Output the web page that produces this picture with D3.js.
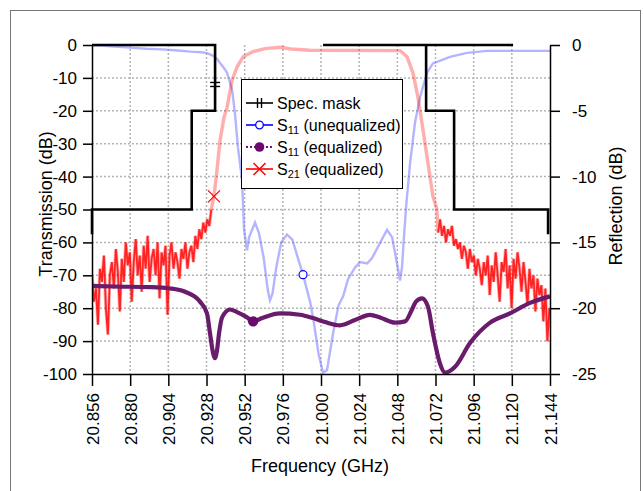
<!DOCTYPE html>
<html>
<head>
<meta charset="utf-8">
<script src="https://cdn.jsdelivr.net/npm/d3@7"></script>
<style>
  body { margin: 0; background: #fff; }
  svg { font-family: "Liberation Sans", Arial, sans-serif; }
  .grid line { stroke: #b4b4b4; stroke-width: 1.5; stroke-dasharray: 2,2; }
  .axis path, .axis line { stroke: #000; stroke-width: 1.5; }
  .axis text { font-size: 17px; fill: #000; }
</style>
</head>
<body>
<svg id="chart" width="643" height="491" viewBox="0 0 643 491"></svg>
<script>
// axis ticks
const freqTicks = [20.856, 20.880, 20.904, 20.928, 20.952, 20.976, 21.000, 21.024, 21.048, 21.072, 21.096, 21.120, 21.144];
const transTicks = [0, -10, -20, -30, -40, -50, -60, -70, -80, -90, -100];
const reflTicks = [0, -5, -10, -15, -20, -25];

// spec mask (transmission dB)
const maskLeftFreq = [20.856, 20.856, 20.9187, 20.9187, 20.9334, 20.9334, 20.856];
const maskLeftDb = [-57.5, -50, -50, -20, -20, 0, 0];
const maskTopFreq = [21.0013, 21.1208];
const maskTopDb = [0, 0];
const maskRightFreq = [21.0661, 21.0661, 21.0837, 21.0837, 21.1428, 21.1428];
const maskRightDb = [0, -20, -20, -50, -50, -57.5];

// S11 unequalized (reflection dB)
const s11UneqFreq = [20.856, 20.862, 20.870, 20.880, 20.890, 20.900, 20.910, 20.918, 20.925, 20.9283, 20.932, 20.9346,
  20.9365, 20.939, 20.9409, 20.9441, 20.9459, 20.9478, 20.9503, 20.951, 20.9516, 20.9535, 20.9548, 20.9585, 20.961,
  20.964, 20.9665, 20.9679, 20.9695, 20.972, 20.975, 20.9786, 20.982, 20.9855, 20.9887, 20.9931, 20.995, 20.9985,
  21.0013, 21.0038, 21.0076, 21.011, 21.0139, 21.017, 21.0214, 21.0246, 21.029, 21.032, 21.0371, 21.0415, 21.0447,
  21.0478, 21.0497, 21.051, 21.0516, 21.0535, 21.056, 21.0591, 21.0623, 21.0667, 21.0704, 21.0811, 21.0918, 21.1044, 21.144];
const s11UneqDb = [-0.02, -0.05, -0.12, -0.2, -0.28, -0.33, -0.42, -0.5, -0.55, -0.62, -0.8, -1.05,
  -1.37, -1.75, -2.1, -3.4, -5.2, -7.8, -10.2, -12.2, -14.0, -15.6, -14.6, -13.5, -14.3,
  -16.2, -18.6, -19.4, -18.9, -16.8, -15.0, -14.4, -14.8, -16.2, -17.45, -19.5, -20.7, -23.5,
  -24.9, -24.7, -21.9, -19.8, -19.1, -17.8, -16.9, -16.5, -16.6, -16.2, -15.05, -14.05, -14.6,
  -16.6, -17.9, -16.8, -15.6, -12.3, -9.0, -5.9, -3.95, -2.1, -1.4, -0.9, -0.6, -0.45, -0.45];

// S11 equalized (reflection dB)
const s11EqFreq = [20.856, 20.870, 20.8925, 20.9051, 20.9145, 20.9239, 20.9283, 20.9302, 20.9321, 20.9333, 20.9346,
  20.9359, 20.9378, 20.9428, 20.9472, 20.9535, 20.9573, 20.963, 20.9742, 20.9868, 20.995, 21.0025, 21.012, 21.0214,
  21.0308, 21.0371, 21.0466, 21.0529, 21.0572, 21.0597, 21.0635, 21.0673, 21.0704, 21.0748, 21.078, 21.0843,
  21.0937, 21.1063, 21.1188, 21.1314, 21.144];
const s11EqDb = [-18.3, -18.35, -18.4, -18.5, -18.75, -19.5, -20.4, -21.9, -23.4, -23.8, -23.2,
  -21.9, -20.7, -20.1, -20.3, -20.7, -21.0, -20.75, -20.4, -20.5, -20.75, -21.05, -21.3, -20.9,
  -20.5, -20.7, -21.1, -21.0, -20.1, -19.5, -19.25, -19.9, -21.9, -24.2, -24.9, -24.45,
  -22.65, -21.1, -20.4, -19.6, -19.1];

// S21 equalized (transmission dB): noisy lower stopband, filter skirt, noisy upper stopband
const s21LowStart = 20.856, s21Step = 0.00125;
const s21LowDb = [-70, -78, -74, -85, -68, -72, -64, -80, -88, -70, -66, -74, -62, -69, -81, -65, -72, -60, -67, -63,
  -78, -66, -59, -70, -64, -75, -61, -68, -58, -72, -65, -62, -70, -60, -77, -63, -67, -61, -82, -64,
  -60, -68, -63, -66, -71, -62, -65, -60, -68, -63, -61, -66, -58, -62, -56, -59, -54, -57, -53, -55, -50];
const s21MainFreq = [20.9327, 20.9346, 20.9365, 20.939, 20.9409, 20.9441, 20.9472, 20.951, 20.9573, 20.9648, 20.9742,
  20.981, 20.993, 21.0497, 21.0541, 21.0579, 21.061, 21.0642, 21.0673, 21.0704, 21.0729];
const s21MainDb = [-46, -38, -29, -22, -19, -10.6, -6.7, -3.6, -2.0, -1.1, -0.7,
  -1.2, -1.6, -1.7, -3.6, -8.6, -16, -26, -36, -46, -50];
const s21HighStart = 21.0736;
const s21HighDb = [-57, -53, -58, -55, -60, -56, -58, -55, -61, -59, -62, -60, -65, -61, -63, -68, -62, -66, -64, -70,
  -65, -68, -73, -66, -70, -64, -76, -67, -72, -63, -70, -78, -66, -69, -62, -74, -67, -80, -65, -71,
  -63, -68, -75, -66, -72, -79, -68, -74, -70, -81, -71, -76, -73, -84, -74, -90, -80];

// markers
const markMask = [20.9334, -12];
const markS11Uneq = [20.9887, -17.45];
const markS11Eq = [20.9573, -21.0];
const markS21 = [20.9327, -46];

const svg = d3.select("#chart");
const plot = {left: 92, right: 550, top: 45, bottom: 374};

const x = d3.scaleLinear().domain([20.856, 21.144]).range([plot.left, plot.right]);
const yT = d3.scaleLinear().domain([0, -100]).range([plot.top, plot.bottom]);
const yR = d3.scaleLinear().domain([0, -25]).range([plot.top, plot.bottom]);

// outer frame
svg.append("rect")
    .attr("x", 10.5).attr("y", 10.5)
    .attr("width", 630).attr("height", 500)
    .attr("fill", "none").attr("stroke", "#777").attr("stroke-width", 1);

const defs = svg.append("defs");
defs.append("filter").attr("id", "soft")
    .append("feGaussianBlur").attr("stdDeviation", 0.7);
defs.append("clipPath").attr("id", "clip")
    .append("rect")
    .attr("x", plot.left).attr("y", plot.top - 3)
    .attr("width", plot.right - plot.left + 3).attr("height", plot.bottom - plot.top + 3);

// grid
const grid = svg.append("g").attr("class", "grid");
grid.selectAll(".h").data(transTicks.slice(1, -1)).join("line")
    .attr("x1", plot.left).attr("x2", plot.right)
    .attr("y1", d => yT(d)).attr("y2", d => yT(d));
grid.selectAll(".v").data(freqTicks.slice(1, -1)).join("line")
    .attr("x1", d => x(d)).attr("x2", d => x(d))
    .attr("y1", plot.top).attr("y2", plot.bottom);

const lineT = d3.line().x(d => x(d[0])).y(d => yT(d[1]));
const lineR = d3.line().x(d => x(d[0])).y(d => yR(d[1]));
const zip = (a, b) => a.map((v, i) => [v, b[i]]);

const curves = svg.append("g").attr("clip-path", "url(#clip)");

// S11 unequalized
curves.append("path")
    .datum(zip(s11UneqFreq, s11UneqDb))
    .attr("d", lineR)
    .attr("fill", "none").attr("stroke", "#7878ff").attr("stroke-opacity", 0.55)
    .attr("stroke-width", 2.4).attr("filter", "url(#soft)");

// S21 equalized
const lowPts = s21LowDb.map((v, i) => [s21LowStart + i * s21Step, v]);
const highPts = s21HighDb.map((v, i) => [s21HighStart + i * s21Step, v]);
const mainPts = zip(s21MainFreq, s21MainDb);
curves.append("path")
    .datum(lowPts.concat(mainPts, highPts))
    .attr("d", lineT)
    .attr("fill", "none").attr("stroke", "#ff0000").attr("stroke-opacity", 0.32)
    .attr("stroke-width", 3.4).attr("filter", "url(#soft)");
[lowPts, highPts].forEach(p => {
    curves.append("path")
        .datum(p)
        .attr("d", lineT)
        .attr("fill", "none").attr("stroke", "#ff0000").attr("stroke-opacity", 0.8)
        .attr("stroke-width", 1.8).attr("filter", "url(#soft)");
});

// S11 equalized
curves.append("path")
    .datum(zip(s11EqFreq, s11EqDb))
    .attr("d", d3.line().curve(d3.curveMonotoneX).x(d => x(d[0])).y(d => yR(d[1])))
    .attr("fill", "none").attr("stroke", "#6a1a6c").attr("stroke-width", 4.2)
    .attr("filter", "url(#soft)");

// spec mask
const maskG = svg.append("g").attr("fill", "none").attr("stroke", "#000").attr("stroke-width", 2.6);
[[maskLeftFreq, maskLeftDb], [maskTopFreq, maskTopDb], [maskRightFreq, maskRightDb]].forEach(([f, v]) => {
    maskG.append("path").datum(zip(f, v)).attr("d", lineT);
});

// markers on curves
function maskMarker(g, cx, cy, vertical) {
    [-2, 2].forEach(o => {
        if (vertical) g.append("line").attr("x1", cx + o).attr("x2", cx + o).attr("y1", cy - 5).attr("y2", cy + 5);
        else g.append("line").attr("x1", cx - 5).attr("x2", cx + 5).attr("y1", cy + o).attr("y2", cy + o);
    });
}
function crossMarker(g, cx, cy) {
    g.append("path").attr("d", `M${cx - 6},${cy - 6}L${cx + 6},${cy + 6}M${cx - 6},${cy + 6}L${cx + 6},${cy - 6}`);
}
const mk = svg.append("g");
maskMarker(mk.append("g").attr("stroke", "#000").attr("stroke-width", 1.4), x(markMask[0]), yT(markMask[1]), false);
mk.append("circle").attr("cx", x(markS11Uneq[0])).attr("cy", yR(markS11Uneq[1])).attr("r", 4)
    .attr("fill", "#fff").attr("stroke", "#0000ff").attr("stroke-width", 1.2);
mk.append("circle").attr("cx", x(markS11Eq[0])).attr("cy", yR(markS11Eq[1])).attr("r", 5.2)
    .attr("fill", "#6a0a6e");
crossMarker(mk.append("g").attr("stroke", "#ff0000").attr("stroke-width", 1.2), x(markS21[0]), yT(markS21[1]));

// axes
const fmtInt = d => String(d);
svg.append("g").attr("class", "axis")
    .attr("transform", `translate(${plot.left},0)`)
    .call(d3.axisLeft(yT).tickValues(transTicks).tickFormat(fmtInt).tickSize(9).tickSizeOuter(0).tickPadding(6));
svg.append("g").attr("class", "axis")
    .attr("transform", `translate(${plot.right},0)`)
    .call(d3.axisRight(yR).tickValues(reflTicks).tickFormat(fmtInt).tickSize(10).tickSizeOuter(0).tickPadding(12));
const xAxis = svg.append("g").attr("class", "axis")
    .attr("transform", `translate(0,${plot.bottom})`)
    .call(d3.axisBottom(x).tickValues(freqTicks).tickFormat(d3.format(".3f")).tickSize(12).tickSizeOuter(0));
xAxis.selectAll("text")
    .attr("transform", "rotate(-90)")
    .attr("x", -19).attr("y", 0).attr("dy", "0.36em")
    .style("text-anchor", "end");

// axis titles
svg.append("text")
    .attr("transform", `translate(52,204) rotate(-90)`)
    .attr("text-anchor", "middle").attr("font-size", 18)
    .text("Transmission (dB)");
svg.append("text")
    .attr("transform", `translate(622,206) rotate(-90)`)
    .attr("text-anchor", "middle").attr("font-size", 18)
    .text("Reflection (dB)");
svg.append("text")
    .attr("x", (plot.left + plot.right) / 2 - 1).attr("y", 472)
    .attr("text-anchor", "middle").attr("font-size", 18)
    .text("Frequency (GHz)");

// legend
const legend = svg.append("g").attr("transform", "translate(241,79)");
legend.append("rect").attr("x", 0.5).attr("y", 0.5).attr("width", 161).attr("height", 109)
    .attr("fill", "#fff").attr("stroke", "#000").attr("stroke-width", 1);
const entries = [
    {name: "Spec. mask", sub: null, rest: null, color: "#000", dash: null, mark: "mask"},
    {name: "S", sub: "11", rest: " (unequalized)", color: "#0000ff", dash: null, mark: "open"},
    {name: "S", sub: "11", rest: " (equalized)", color: "#7a0a7e", dash: "2,2", mark: "dot"},
    {name: "S", sub: "21", rest: " (equalized)", color: "#ff0000", dash: null, mark: "cross"}
];
entries.forEach((e, i) => {
    const cy = 24 + i * 22;
    const g = legend.append("g");
    g.append("line").attr("x1", 5).attr("x2", 32).attr("y1", cy).attr("y2", cy)
        .attr("stroke", e.color).attr("stroke-width", e.mark === "dot" ? 2.2 : 1.6)
        .attr("stroke-dasharray", e.dash);
    if (e.mark === "mask") maskMarker(g.append("g").attr("stroke", "#000").attr("stroke-width", 1.4), 18.5, cy, true);
    if (e.mark === "open") g.append("circle").attr("cx", 18.5).attr("cy", cy).attr("r", 3.8)
        .attr("fill", "#fff").attr("stroke", e.color).attr("stroke-width", 1.3);
    if (e.mark === "dot") g.append("circle").attr("cx", 18.5).attr("cy", cy).attr("r", 4.8).attr("fill", "#6a0a6e");
    if (e.mark === "cross") crossMarker(g.append("g").attr("stroke", e.color).attr("stroke-width", 1.5), 18.5, cy);
    const t = g.append("text").attr("x", 36).attr("y", cy + 6).attr("font-size", 16);
    t.append("tspan").text(e.name);
    if (e.sub) {
        t.append("tspan").attr("font-size", 11).attr("dy", 3).text(e.sub);
        t.append("tspan").attr("dy", -3).text(e.rest);
    }
});
</script>
</body>
</html>
